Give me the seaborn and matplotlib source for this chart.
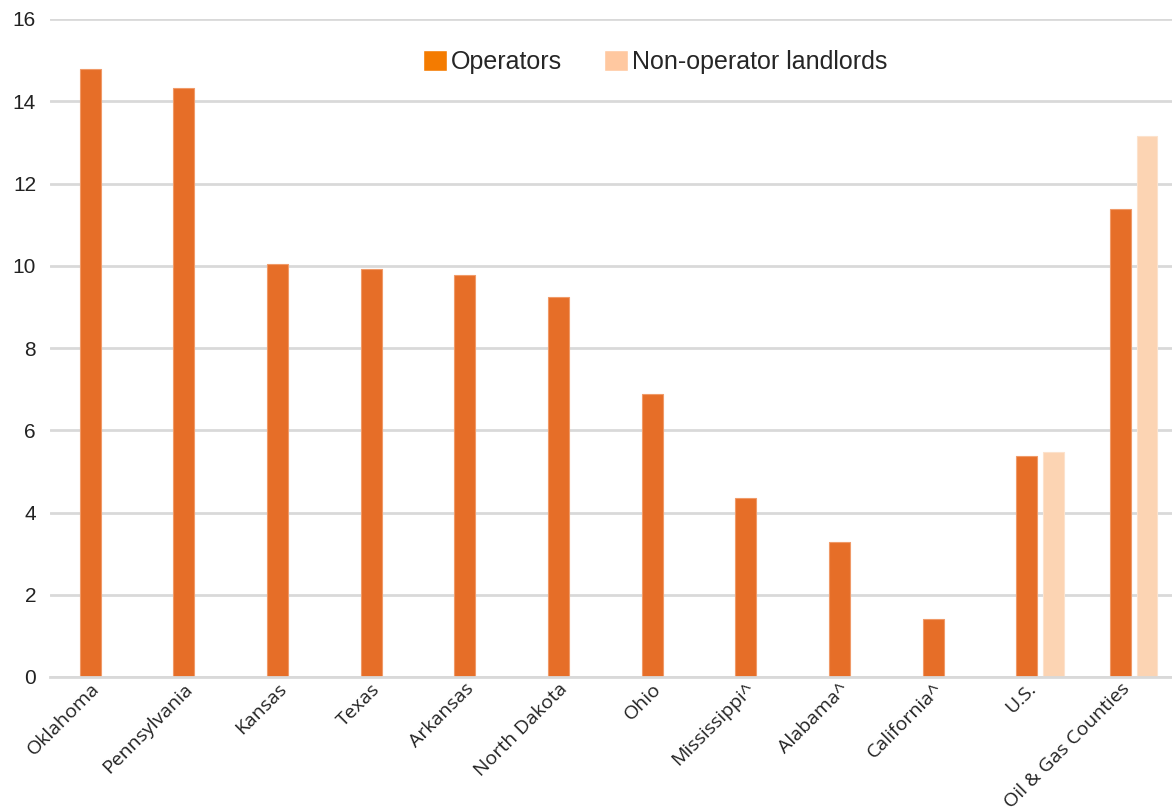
import numpy as np
import matplotlib
matplotlib.use('Agg')
import matplotlib.pyplot as plt
import seaborn as sns
from matplotlib.patches import Patch

# data
states = ['Oklahoma', 'Pennsylvania', 'Kansas', 'Texas', 'Arkansas', 'North Dakota',
          'Ohio', 'Mississippi^', 'Alabama^', 'California^', 'U.S.', 'Oil & Gas Counties']
operators = [14.78, 14.32, 10.04, 9.92, 9.78, 9.24, 6.88, 4.35, 3.28, 1.41, 5.37, 11.38]
non_operators = [np.nan] * 10 + [5.47, 13.16]
y_ticks = [0, 2, 4, 6, 8, 10, 12, 14, 16]

op_color = '#E66E28'
nonop_color = '#FCD4B3'

sns.set_style('white')
plt.rcParams['font.family'] = ['Liberation Sans', 'DejaVu Sans']

fig = plt.figure(figsize=(11.72, 8.08), dpi=100)
ax = fig.add_axes([50 / 1172, 1 - 677 / 808, 1 - 50 / 1172, (677 - 19) / 808])

# operators, centred on each category
sns.barplot(x=states, y=operators, color=op_color, width=0.224, saturation=1,
            edgecolor='#F09A68', linewidth=0.8, ax=ax)

# non-operator landlords sit just to the right of the operator bar
pos = np.arange(len(states)) + 0.283
ax.bar(pos, non_operators, width=0.224, color=nonop_color,
       edgecolor='#FCE2CC', linewidth=0.8)

ax.set_xlim(-0.43, 11.55)
ax.set_ylim(0, 16)
ax.set_yticks(y_ticks)
ax.set_yticklabels([str(t) for t in y_ticks], fontsize=15, color='#222222')
ax.tick_params(axis='y', length=0, pad=10)
ax.tick_params(axis='x', length=0, pad=2)
ax.grid(axis='y', color='#D9D9D9', linewidth=2)
ax.set_axisbelow(True)
for s in ['left', 'right', 'top']:
    ax.spines[s].set_visible(False)
ax.spines['bottom'].set_color('#D9D9D9')
ax.spines['bottom'].set_linewidth(2)

ax.set_xticks(range(len(states)))
ax.set_xticklabels(states, rotation=45, ha='right', va='top', rotation_mode='anchor',
                   fontsize=14, family=['Open Sans', 'DejaVu Sans'], color='#222222')
ax.set_xlabel('')
ax.set_ylabel('')

handles = [Patch(facecolor='#F47B00', label='Operators'),
           Patch(facecolor='#FFC8A0', label='Non-operator landlords')]
ax.legend(handles=handles, loc='center', bbox_to_anchor=(655 / 1172, 1 - 62 / 808),
          bbox_transform=fig.transFigure, ncol=2, frameon=False, fontsize=18,
          handlelength=0.95, handleheight=0.95, handletextpad=0.15, columnspacing=1.7)

plt.savefig('out.png', dpi=100)
